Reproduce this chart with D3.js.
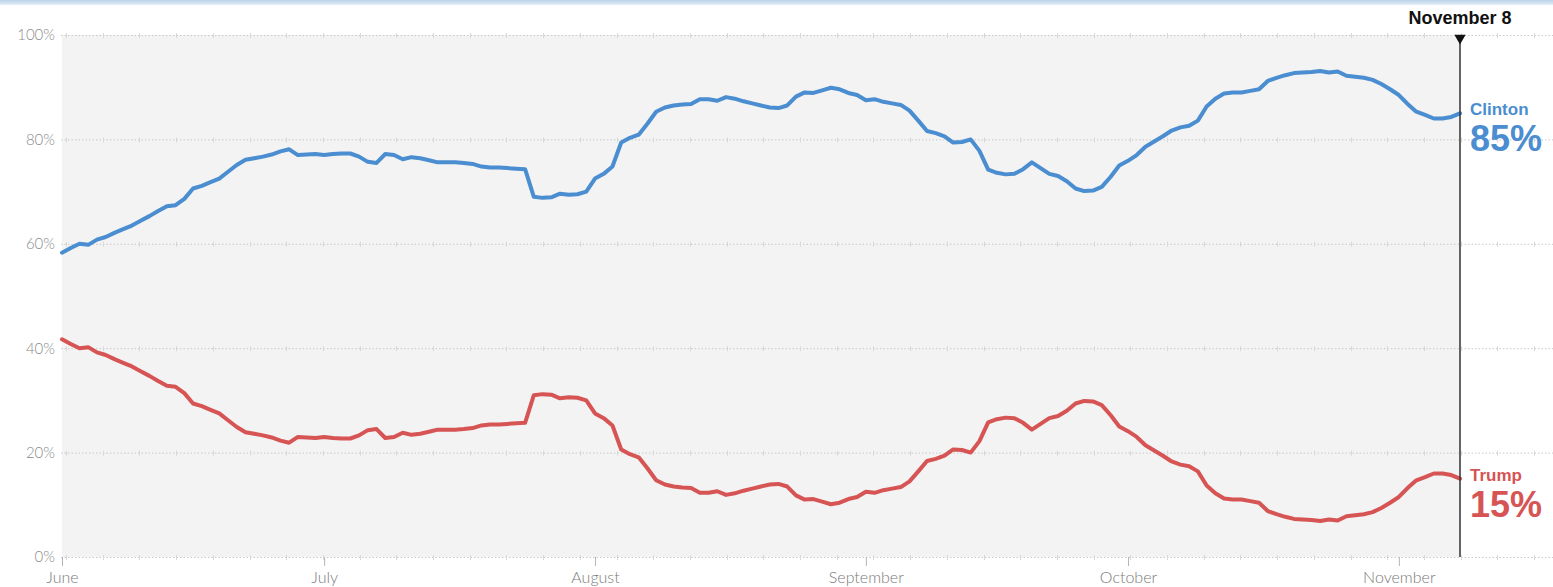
<!DOCTYPE html>
<html>
<head>
<meta charset="utf-8">
<script src="https://cdn.jsdelivr.net/npm/d3@7/dist/d3.min.js"></script>
<style>
  html, body { margin: 0; padding: 0; background: #fff; }
  svg { display: block; }
  .ylab { font-family: Lato, "Open Sans", sans-serif; font-weight: 300; font-size: 15px; fill: #8a8a8a; }
  .xlab { font-family: Lato, "Open Sans", sans-serif; font-weight: 300; font-size: 16px; fill: #7a7a7a; }
  .bold { font-family: "Liberation Sans", Arial, sans-serif; font-weight: bold; }
</style>
</head>
<body>
<svg id="chart" width="1553" height="587"></svg>
<script>
// Daily chance of winning, June 1 through November 8
const startDate = "2016-06-01";
const endDate = "2016-11-08";

const clinton = [
  58.3, 59.2, 60.0, 59.8, 60.8, 61.3, 62.1, 62.8, 63.5, 64.4,
  65.3, 66.3, 67.2, 67.4, 68.6, 70.6, 71.1, 71.8, 72.5, 73.8,
  75.1, 76.1, 76.4, 76.7, 77.1, 77.7, 78.1, 77.0, 77.1, 77.2,
  77.0, 77.2, 77.3, 77.3, 76.7, 75.7, 75.5, 77.2, 77.0, 76.2,
  76.6, 76.4, 76.0, 75.6, 75.6, 75.6, 75.5, 75.3, 74.8, 74.6,
  74.6, 74.5, 74.4, 74.3, 69.0, 68.8, 68.9, 69.6, 69.4, 69.5,
  70.0, 72.5, 73.4, 74.8, 79.4, 80.3, 80.9, 83.0, 85.3, 86.1,
  86.5, 86.7, 86.8, 87.7, 87.7, 87.4, 88.1, 87.8, 87.3, 86.9,
  86.5, 86.1, 86.0, 86.5, 88.2, 89.0, 88.9, 89.4, 89.9, 89.6,
  88.9, 88.5, 87.5, 87.7, 87.2, 86.9, 86.6, 85.5, 83.6, 81.6,
  81.2, 80.6, 79.4, 79.5, 80.0, 77.8, 74.2, 73.6, 73.3, 73.4,
  74.3, 75.6, 74.5, 73.4, 73.0, 72.0, 70.6, 70.1, 70.2, 70.9,
  72.8, 75.0, 75.9, 77.0, 78.6, 79.6, 80.6, 81.7, 82.3, 82.6,
  83.6, 86.3, 87.8, 88.8, 89.0, 89.0, 89.3, 89.6, 91.2, 91.8,
  92.3, 92.7, 92.8, 92.9, 93.1, 92.8, 93.0, 92.2, 92.0, 91.8,
  91.4, 90.6, 89.6, 88.5, 86.8, 85.3, 84.7, 84.0, 84.0, 84.3,
  85.0
];

const trump = [
  41.7, 40.8, 40.0, 40.2, 39.2, 38.7, 37.9, 37.2, 36.5, 35.6,
  34.7, 33.7, 32.8, 32.6, 31.4, 29.4, 28.9, 28.2, 27.5, 26.2,
  24.9, 23.9, 23.6, 23.3, 22.9, 22.3, 21.9, 23.0, 22.9, 22.8,
  23.0, 22.8, 22.7, 22.7, 23.3, 24.3, 24.5, 22.8, 23.0, 23.8,
  23.4, 23.6, 24.0, 24.4, 24.4, 24.4, 24.5, 24.7, 25.2, 25.4,
  25.4, 25.5, 25.6, 25.7, 31.0, 31.2, 31.1, 30.4, 30.6, 30.5,
  30.0, 27.5, 26.6, 25.2, 20.6, 19.7, 19.1, 17.0, 14.7, 13.9,
  13.5, 13.3, 13.2, 12.3, 12.3, 12.6, 11.9, 12.2, 12.7, 13.1,
  13.5, 13.9, 14.0, 13.5, 11.8, 11.0, 11.1, 10.6, 10.1, 10.4,
  11.1, 11.5, 12.5, 12.3, 12.8, 13.1, 13.4, 14.5, 16.4, 18.4,
  18.8, 19.4, 20.6, 20.5, 20.0, 22.2, 25.8, 26.4, 26.7, 26.6,
  25.7, 24.4, 25.5, 26.6, 27.0, 28.0, 29.4, 29.9, 29.8, 29.1,
  27.2, 25.0, 24.1, 23.0, 21.4, 20.4, 19.4, 18.3, 17.7, 17.4,
  16.4, 13.7, 12.2, 11.2, 11.0, 11.0, 10.7, 10.4, 8.8, 8.2,
  7.7, 7.3, 7.2, 7.1, 6.9, 7.2, 7.0, 7.8, 8.0, 8.2,
  8.6, 9.4, 10.4, 11.5, 13.2, 14.7, 15.3, 16.0, 16.0, 15.7,
  15.0
];

const monthTicks = ["2016-06-01", "2016-07-01", "2016-08-01", "2016-09-01", "2016-10-01", "2016-11-01"];
const monthLabels = ["June", "July", "August", "September", "October", "November"];
const yTicks = [0, 20, 40, 60, 80, 100];
const markerLabel = "November 8";
const candidates = ["Clinton", "Trump"];
const colors = { Clinton: "#4a8dd0", Trump: "#d75454" };

const W = 1553, H = 587;
const margin = { left: 62, top: 35, bottom: 30 };
const plotRight = 1460;

const parse = d3.utcParse("%Y-%m-%d");
const t0 = parse(startDate), t1 = parse(endDate);
const days = d3.utcDay.range(t0, d3.utcDay.offset(t1, 1));

const x = d3.scaleUtc().domain([t0, t1]).range([margin.left, plotRight]);
const y = d3.scaleLinear().domain([0, 100]).range([H - margin.bottom, margin.top]);

const svg = d3.select("#chart");

// thin band across the very top
const grad = svg.append("defs").append("linearGradient")
  .attr("id", "topband").attr("x1", 0).attr("x2", 0).attr("y1", 0).attr("y2", 1);
grad.append("stop").attr("offset", "0%").attr("stop-color", "#b9d3e8");
grad.append("stop").attr("offset", "100%").attr("stop-color", "#e4eef7");
svg.append("rect").attr("x", 0).attr("y", 0).attr("width", W).attr("height", 5).attr("fill", "url(#topband)");

// plot background up to election day
svg.append("rect")
  .attr("x", x(t0)).attr("y", y(100))
  .attr("width", x(t1) - x(t0)).attr("height", y(0) - y(100))
  .attr("fill", "#f3f3f3");

// dotted horizontal grid running to the right edge
const grid = svg.append("g");
grid.selectAll("line.grid").data(yTicks).join("line")
  .attr("class", "grid")
  .attr("x1", x(t0) - 1).attr("x2", W)
  .attr("y1", d => y(d) + 0.5).attr("y2", d => y(d) + 0.5)
  .attr("stroke", "#c9c9c9").attr("stroke-width", 1)
  .attr("stroke-dasharray", "1.5,2");

// small notches along the grid
const notchStep = 36.7;
const notchXs = d3.range(x(t0) + 4, W, notchStep);
yTicks.forEach(v => {
  grid.selectAll(null).data(notchXs).join("line")
    .attr("x1", d => Math.round(d) + 0.5).attr("x2", d => Math.round(d) + 0.5)
    .attr("y1", y(v) - 2).attr("y2", y(v) + 3)
    .attr("stroke", "#d8d8d8").attr("stroke-width", 1);
});

// y axis labels
const yAxis = d3.axisLeft(y).tickValues(yTicks).tickFormat(d => d + "%").tickSize(0).tickPadding(7);
const ya = svg.append("g").attr("transform", `translate(${x(t0)},0)`).call(yAxis);
ya.select(".domain").remove();
ya.selectAll("text").attr("class", "ylab").attr("font-family", null).attr("font-size", null).attr("fill", null);

// month ticks and labels
const monthDates = monthTicks.map(parse);
const xAxis = d3.axisBottom(x).tickValues(monthDates)
  .tickFormat((d, i) => monthLabels[i]).tickSize(9).tickPadding(2);
const xa = svg.append("g").attr("transform", `translate(0,${y(0)})`).call(xAxis);
xa.select(".domain").remove();
xa.selectAll(".tick line").attr("stroke", "#b5b5b5");
xa.selectAll("text").attr("class", "xlab").attr("font-family", null).attr("font-size", null).attr("fill", null)
  .attr("dy", "0.95em");

// lines
const series = {
  Clinton: days.map((d, i) => ({ date: d, value: clinton[i] })),
  Trump: days.map((d, i) => ({ date: d, value: trump[i] }))
};
const line = d3.line().x(d => x(d.date)).y(d => y(d.value)).curve(d3.curveLinear);
candidates.forEach(c => {
  svg.append("path")
    .datum(series[c])
    .attr("d", line)
    .attr("fill", "none")
    .attr("stroke", colors[c])
    .attr("stroke-width", 4)
    .attr("stroke-linejoin", "round")
    .attr("stroke-linecap", "round");
});

// election day marker
svg.append("line")
  .attr("x1", x(t1)).attr("x2", x(t1))
  .attr("y1", y(100)).attr("y2", y(0))
  .attr("stroke", "#333").attr("stroke-width", 1.5);
svg.append("path")
  .attr("d", d3.symbol().type(d3.symbolTriangle).size(55))
  .attr("transform", `translate(${x(t1)},${y(100) + 3}) rotate(180)`)
  .attr("fill", "#111");
svg.append("text")
  .attr("class", "bold")
  .attr("x", x(t1)).attr("y", 24)
  .attr("text-anchor", "middle")
  .attr("font-size", 18)
  .attr("fill", "#111")
  .text(markerLabel);

// end labels
candidates.forEach(c => {
  const last = series[c][series[c].length - 1];
  const yEnd = y(last.value);
  svg.append("text")
    .attr("class", "bold")
    .attr("x", x(t1) + 10).attr("y", yEnd + 2)
    .attr("font-size", 17)
    .attr("fill", colors[c])
    .text(c);
  svg.append("text")
    .attr("class", "bold")
    .attr("x", x(t1) + 10).attr("y", yEnd + 38)
    .attr("font-size", 36)
    .attr("fill", colors[c])
    .text(Math.round(last.value) + "%");
});
</script>
</body>
</html>
